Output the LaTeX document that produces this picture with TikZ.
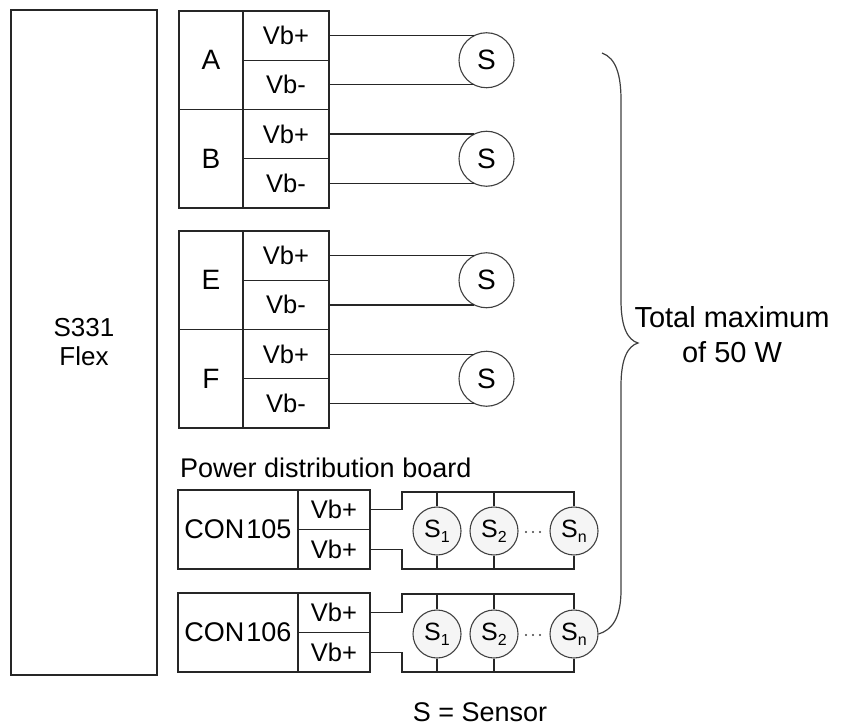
\documentclass[tikz,border=0pt]{standalone}
\usepackage{fontspec}
\setmainfont{Liberation Sans}
\newcommand\myfs[2]{\fontsize{#1}{#2}\selectfont}
\newcommand\subS[1]{S\raisebox{-5pt}{\myfs{16}{16}#1}}
\tikzset{
  ln/.style={draw=black!85, line width=1.25pt},
  cellbox/.style={ln, inner sep=0pt, rectangle},
  lettercell/.style={cellbox, minimum width=64pt, minimum height=98.5pt, font=\myfs{28}{30}},
  vbcell/.style={cellbox, minimum width=86pt, minimum height=49.25pt, font=\myfs{25.5}{30}},
  concell/.style={cellbox, minimum width=120pt, minimum height=79pt, font=\myfs{27}{30}},
  vbsmall/.style={cellbox, minimum width=72pt, minimum height=39.5pt, font=\myfs{25.5}{30}},
  bigsensor/.style={circle, draw=black!75, line width=1.1pt, fill=white, minimum size=55pt, inner sep=0pt, font=\myfs{28}{30}},
  smallsensor/.style={circle, draw=black!75, line width=1.1pt, fill=black!4, minimum size=48pt, inner sep=0pt, font=\myfs{25}{26}},
  wire/.style={ln},
  brace/.style={draw=black!75, line width=1.2pt},
  plain/.style={inner sep=0pt}
}
\begin{document}
\begin{tikzpicture}[x=1pt,y=-1pt]
\useasboundingbox (0,0) rectangle (845,727);
% main controller
\node[cellbox, minimum width=146pt, minimum height=665pt, align=center, font=\myfs{26}{29}] (flex) at (84,342.5) {S331\\Flex};
% group A/B
\node[lettercell] (A) at (211,60.25) {A};
\node[vbcell] (Ap) at (286,35.625) {Vb+};
\node[vbcell] (Am) at (286,84.875) {Vb-};
\node[lettercell] (B) at (211,158.75) {B};
\node[vbcell] (Bp) at (286,134.125) {Vb+};
\node[vbcell] (Bm) at (286,183.375) {Vb-};
% group E/F
\node[lettercell] (E) at (211,280.25) {E};
\node[vbcell] (Ep) at (286,255.625) {Vb+};
\node[vbcell] (Em) at (286,304.875) {Vb-};
\node[lettercell] (F) at (211,378.75) {F};
\node[vbcell] (Fp) at (286,354.125) {Vb+};
\node[vbcell] (Fm) at (286,403.375) {Vb-};
% sensors
\node[bigsensor] (SA) at (486.5,60.25) {S};
\node[bigsensor] (SB) at (486.5,158.75) {S};
\node[bigsensor] (SE) at (486.5,280.25) {S};
\node[bigsensor] (SF) at (486.5,378.75) {S};
\foreach \g in {A,B,E,F}{
  \draw[wire] (\g p.east) -- (\g p.east -| S\g.116.5);
  \draw[wire] (\g m.east) -- (\g m.east -| S\g.243.5);
}
% power distribution board
\node[plain, anchor=base west, font=\myfs{27}{30}] (pdb) at (180,477) {Power distribution board};
\node[concell] (C5) at (238,529.5) {CON\kern2pt 105};
\node[vbsmall] (C5a) at (334,509.75) {Vb+};
\node[vbsmall] (C5b) at (334,549.25) {Vb+};
\node[concell] (C6) at (238,632.5) {CON\kern2pt 106};
\node[vbsmall] (C6a) at (334,612.75) {Vb+};
\node[vbsmall] (C6b) at (334,652.25) {Vb+};
\node[smallsensor] (S51) at (437,531) {\subS{1}};
\node[smallsensor] (S52) at (494,531) {\subS{2}};
\node[smallsensor] (S5n) at (574,531) {\subS{n}};
\node[smallsensor] (S61) at (437,634) {\subS{1}};
\node[smallsensor] (S62) at (494,634) {\subS{2}};
\node[smallsensor] (S6n) at (574,634) {\subS{n}};
\coordinate (t5) at (402,492);
\coordinate (b5) at (402,569);
\coordinate (t6) at (402,594);
\coordinate (b6) at (402,672);
\draw[wire] (C5a.east) -| (t5) -| (S5n.north);
\draw[wire] (C5b.east) -| (b5) -| (S5n.south);
\draw[wire] (C6a.east) -| (t6) -| (S6n.north);
\draw[wire] (C6b.east) -| (b6) -| (S6n.south);
\foreach \s in {1,2}{
  \draw[wire] (S5\s.north |- t5) -- (S5\s.north);
  \draw[wire] (S5\s.south |- b5) -- (S5\s.south);
  \draw[wire] (S6\s.north |- t6) -- (S6\s.north);
  \draw[wire] (S6\s.south |- b6) -- (S6\s.south);
}
\foreach \yy in {532,635}{
  \foreach \xx in {526,533,540}{
    \fill[black!75] (\xx,\yy) circle (1.1pt);
  }
}
% brace
\draw[brace] (S6n.east) .. controls (612,630) and (621,618) .. (621,590)
  -- (621,386) .. controls (621,358) and (628,346) .. (638,343)
  .. controls (628,340) and (621,328) .. (621,300)
  -- (621,100) .. controls (621,75) and (616,58) .. (602,53);
\node[plain, align=center, font=\myfs{29}{35}] (total) at (732,335) {Total maximum\\of 50 W};
\node[plain, font=\myfs{27}{30}] (legend) at (480,712) {S = Sensor};
\end{tikzpicture}
\end{document}
